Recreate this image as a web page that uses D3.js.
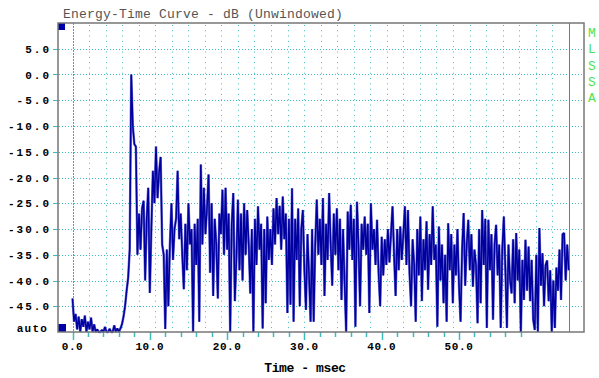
<!DOCTYPE html>
<html>
<head>
<meta charset="utf-8">
<script src="https://cdn.jsdelivr.net/npm/d3@7"></script>
<style>
  body { margin: 0; background: #fff; }
</style>
</head>
<body>
<div id="chart-area"></div>
<script>
// Energy-Time Curve, one level (dB) every 0.2 msec starting at 0
const sampleStep = 0.2;
const levels = [
  -43.5, -48, -46.5, -49.5, -47, -50, -47.5, -49, -46.8, -50,
  -48, -49.5, -47.2, -50, -48.5, -50, -49.5, -50, -50, -49.6,
  -50, -49, -50, -50, -49.4, -50, -50, -48.7, -50, -49.3,
  -50, -49.3, -48.5, -47, -45, -42, -39.5, -34, 0, -10,
  -13.5, -14, -35, -27, -34, -26, -24.5, -40, -28, -22,
  -42.4, -30, -18.7, -25, -14, -24, -19, -16, -33, -35,
  -49.4, -34, -45, -33, -25, -36, -30, -28, -18.7, -32,
  -27, -35, -41.7, -29, -38, -25, -33, -30, -50, -29,
  -37, -28, -48, -17.5, -33, -22, -31, -26, -19.4, -38.5,
  -25, -43, -28, -33, -43.5, -27, -31, -22.4, -35, -22,
  -34, -27, -50, -29, -23, -44, -36, -24.3, -38, -27,
  -40, -25, -35, -26.3, -33, -42.5, -30, -50, -28, -37,
  -25.6, -34, -29, -49.3, -30, -44.4, -27.6, -36, -30, -37,
  -26, -33, -24, -31, -25.5, -34, -23.7, -32, -27, -46.3,
  -28, -44.7, -22.1, -48, -28, -36, -26, -45, -30, -26.3,
  -38, -45.7, -31, -39, -48, -30, -48, -33, -24.3, -35,
  -28, -37, -24, -43, -29, -36, -23, -33, -41, -27,
  -35, -26, -38, -28, -43.8, -30, -40.5, -50, -26.6, -34,
  -25.3, -36, -28, -49, -24.7, -33, -45, -29, -34, -27.6,
  -35, -29, -46.3, -25, -34, -30, -37, -28.2, -38.6, -45,
  -31.5, -39, -32, -37, -30, -36.5, -31, -25.6, -35, -43,
  -30, -38, -29.5, -36, -31, -25.6, -37, -26.3, -38.6, -45,
  -32, -37, -48, -30, -39, -27.6, -44, -32, -38, -28.5,
  -41.8, -31, -37, -25.6, -36, -33, -49, -29.5, -40, -33,
  -44.4, -35, -48, -28.9, -38, -31, -44.4, -33, -39, -30,
  -41, -48, -34, -26.9, -41, -33, -28.2, -38, -31, -41.2,
  -34, -37, -48.3, -30, -44.4, -26.3, -37, -28, -49.2, -28.2,
  -38, -31, -47.6, -33, -29.2, -39, -33, -49.2, -34, -27.6,
  -38, -49.2, -33, -39.9, -42.5, -32, -44.4, -30.8, -40, -34,
  -50, -36, -43.8, -32.1, -42, -33.4, -44, -36, -47.6, -49.6,
  -35, -50, -29.8, -41, -34.7, -45, -37, -36.1, -44, -38,
  -50, -40, -49.2, -37.5, -42, -34, -43.8, -31, -30.8, -40,
  -33, -38
];

const yTicks = [5, 0, -5, -10, -15, -20, -25, -30, -35, -40, -45];
const xLabels = [0, 10, 20, 30, 40, 50];
const xMinorTicks = d3.range(0, 60, 2);
const cursorStart = 0;
const cursorEnd = 64.2;
const gridDivisions = 30;
const sideLetters = ["M", "L", "S", "S", "A"];

const width = 599;
const height = 378;
const plot = { left: 58, right: 584, top: 23, bottom: 332 };

const svg = d3
  .select("#chart-area")
  .append("svg")
  .attr("width", width)
  .attr("height", height)
  .style("display", "block");

const x = d3.scaleLinear().domain([-1.876, 66.17]).range([plot.left, plot.right]);
const y = d3.scaleLinear().domain([-50, 10]).range([plot.bottom, plot.top]);

const gridColor = "#3cbcbc";
const mono = "'Liberation Mono', 'DejaVu Sans Mono', monospace";

// title
svg
  .append("text")
  .attr("x", 63)
  .attr("y", 18)
  .attr("font-family", mono)
  .attr("font-size", 13)
  .attr("letter-spacing", 0.2)
  .attr("fill", "#555")
  .text("Energy-Time Curve - dB (Unwindowed)");

// horizontal dotted grid
svg
  .selectAll(".hgrid")
  .data(yTicks)
  .enter()
  .append("line")
  .attr("x1", plot.left + 1)
  .attr("x2", plot.right - 1)
  .attr("y1", (d) => Math.round(y(d)) + 0.5)
  .attr("y2", (d) => Math.round(y(d)) + 0.5)
  .attr("stroke", gridColor)
  .attr("stroke-dasharray", "1,2");

// vertical dotted grid between the cursors
const gridTimes = d3.range(1, gridDivisions).map((k) => cursorStart + ((cursorEnd - cursorStart) * k) / gridDivisions);
svg
  .selectAll(".vgrid")
  .data(gridTimes)
  .enter()
  .append("line")
  .attr("x1", (d) => Math.round(x(d)) + 0.5)
  .attr("x2", (d) => Math.round(x(d)) + 0.5)
  .attr("y1", plot.top + 2)
  .attr("y2", plot.bottom)
  .attr("stroke", gridColor)
  .attr("stroke-dasharray", "1,4.3");

// y ticks and labels
svg
  .selectAll(".ytick")
  .data(yTicks)
  .enter()
  .append("line")
  .attr("x1", 53)
  .attr("x2", plot.left)
  .attr("y1", (d) => Math.round(y(d)) + 0.5)
  .attr("y2", (d) => Math.round(y(d)) + 0.5)
  .attr("stroke", gridColor);

svg
  .selectAll(".ylabel")
  .data(yTicks)
  .enter()
  .append("text")
  .attr("x", 51)
  .attr("y", (d) => y(d) + 4)
  .attr("text-anchor", "end")
  .attr("font-family", mono)
  .attr("font-weight", "bold")
  .attr("font-size", 11)
  .attr("letter-spacing", 2)
  .attr("fill", "#000")
  .text((d) => d.toFixed(1));

svg
  .append("text")
  .attr("x", 48)
  .attr("y", 332)
  .attr("text-anchor", "end")
  .attr("font-family", mono)
  .attr("font-weight", "bold")
  .attr("font-size", 11)
  .attr("letter-spacing", 1.2)
  .text("auto");

// x ticks and labels
svg
  .selectAll(".xtick")
  .data(xMinorTicks)
  .enter()
  .append("line")
  .attr("x1", (d) => Math.round(x(d)) + 0.5)
  .attr("x2", (d) => Math.round(x(d)) + 0.5)
  .attr("y1", plot.bottom)
  .attr("y2", (d) => (d % 10 === 0 ? 340 : 337))
  .attr("stroke", gridColor)
  .attr("stroke-width", 1.5);

svg
  .selectAll(".xlabel")
  .data(xLabels)
  .enter()
  .append("text")
  .attr("x", (d) => x(d))
  .attr("y", 350)
  .attr("text-anchor", "middle")
  .attr("font-family", mono)
  .attr("font-weight", "bold")
  .attr("font-size", 11)
  .attr("letter-spacing", 0.6)
  .attr("fill", "#000")
  .text((d) => d.toFixed(1));

svg
  .append("text")
  .attr("x", 305)
  .attr("y", 372)
  .attr("text-anchor", "middle")
  .attr("font-family", mono)
  .attr("font-weight", "bold")
  .attr("font-size", 13)
  .attr("letter-spacing", -0.4)
  .text("Time - msec");

// cursors
svg
  .append("line")
  .attr("x1", Math.round(x(cursorStart)) + 0.5)
  .attr("x2", Math.round(x(cursorStart)) + 0.5)
  .attr("y1", plot.top)
  .attr("y2", plot.bottom)
  .attr("stroke", "#7c7cf4")
  .attr("stroke-dasharray", "2,1");

svg
  .append("line")
  .attr("x1", Math.round(x(cursorEnd)) + 0.5)
  .attr("x2", Math.round(x(cursorEnd)) + 0.5)
  .attr("y1", plot.top)
  .attr("y2", plot.bottom)
  .attr("stroke", "#6a6ae8");

// the curve: light halo then dark trace
const line = d3
  .line()
  .x((d, i) => x(i * sampleStep))
  .y((d) => y(d));

svg
  .append("path")
  .datum(levels)
  .attr("d", line)
  .attr("fill", "none")
  .attr("stroke", "#7474d4")
  .attr("stroke-width", 2.5)
  .attr("stroke-linejoin", "bevel");

svg
  .append("path")
  .datum(levels)
  .attr("d", line)
  .attr("fill", "none")
  .attr("stroke", "#0000a0")
  .attr("stroke-width", 1.5)
  .attr("stroke-linejoin", "bevel");

// marker squares
svg
  .append("rect")
  .attr("x", plot.left)
  .attr("y", plot.top)
  .attr("width", 7)
  .attr("height", 7)
  .attr("fill", "#0000a8");

svg
  .append("rect")
  .attr("x", plot.left)
  .attr("y", plot.bottom - 8)
  .attr("width", 8)
  .attr("height", 8)
  .attr("fill", "#0000a8");

// frame
svg
  .append("rect")
  .attr("x", plot.left)
  .attr("y", plot.top)
  .attr("width", plot.right - plot.left)
  .attr("height", plot.bottom - plot.top)
  .attr("fill", "none")
  .attr("stroke", "#777")
  .attr("stroke-width", 1.5);

// side label
svg
  .selectAll(".side")
  .data(sideLetters)
  .enter()
  .append("text")
  .attr("x", 592)
  .attr("y", (d, i) => 37 + i * 16.25)
  .attr("text-anchor", "middle")
  .attr("font-family", mono)
  .attr("font-size", 13)
  .attr("fill", "#4ee44e")
  .text((d) => d);
</script>
</body>
</html>
